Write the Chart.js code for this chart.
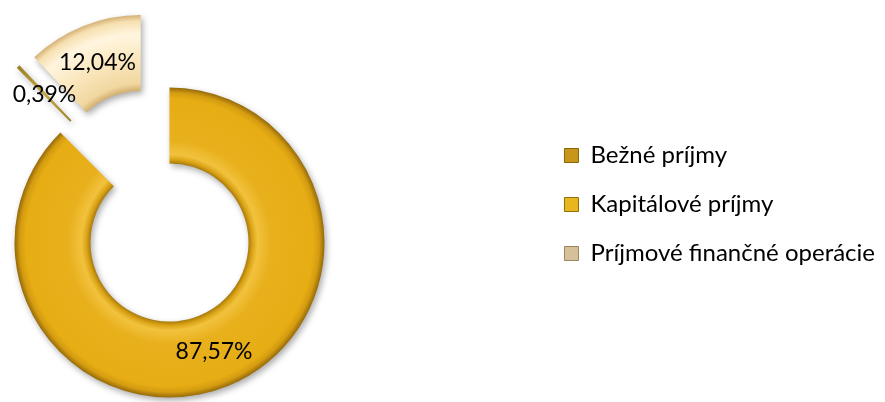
<!DOCTYPE html>
<html><head><meta charset="utf-8">
<script src="https://cdn.jsdelivr.net/npm/chart.js@4"></script>
<style>html,body{margin:0;padding:0;background:#fff;} #wrap{width:885px;height:402px;position:relative;}</style>
</head><body><div id="wrap"><canvas id="c" width="885" height="402"></canvas></div>
<script>
// ---- data ----
const categories = ['Bežné príjmy', 'Kapitálové príjmy', 'Príjmové finančné operácie'];
const shares = [87.57, 0.39, 12.04];

// ---- styles ----
const solidColors = ['#E6AD14', '#AE9330', '#F6DFAA'];
const legendColors = ['#C9961C', '#E8B61E', '#D6C09A'];
const legendBorders = ['#8A6508', '#8F6E08', '#9C8460'];
const gradStops = [
  [[0, '#A87A0C'], [0.05, '#D9A214'], [0.12, '#F2C23E'], [0.3, '#E8B01C'], [0.85, '#E6AD14'], [0.93, '#D49C10'], [1, '#94690A']],
  [[0, '#9C8226'], [0.5, '#C4A63E'], [1, '#9C8226']],
  [[0, '#D2B070'], [0.1, '#F1D7A0'], [0.4, '#FAE6BC'], [0.75, '#FFF5DF'], [0.92, '#F6E0B0'], [1, '#D4B074']]
];
const explodeDist = [0, 78, 78];      // px the slice is pulled out
const explodeTilt = [0, 10, 0];       // deg, direction tweak of the pull-out
const FONT = 'Lato';

function explodeVector(i, midAngle) {
  const a = midAngle + explodeTilt[i] * Math.PI / 180;
  return { dx: Math.cos(a) * explodeDist[i], dy: Math.sin(a) * explodeDist[i] };
}

const placePlugin = {
  id: 'place',
  afterLayout(chart) {
    const a = chart.chartArea;
    a.left = 0; a.right = 339; a.top = 87; a.bottom = 398;
    a.width = a.right - a.left; a.height = a.bottom - a.top;
  },
  afterDatasetUpdate(chart, args) {
    args.meta.data.forEach((arc, i) => {
      const mid = (arc.startAngle + arc.endAngle) / 2;
      const v = explodeVector(i, mid);
      arc.x += v.dx; arc.y += v.dy;
    });
  }
};

const shadowPlugin = {
  id: 'shadow',
  beforeDatasetsDraw(chart) {
    const ctx = chart.ctx;
    ctx.save();
    ctx.shadowColor = 'rgba(0,0,0,0.33)';
    ctx.shadowBlur = 6;
    ctx.shadowOffsetX = 2;
    ctx.shadowOffsetY = 3;
  },
  afterDatasetsDraw(chart) { chart.ctx.restore(); }
};

const labelPlugin = {
  id: 'valueLabels',
  afterDraw(chart) {
    const ctx = chart.ctx;
    const meta = chart.getDatasetMeta(0);
    ctx.save();
    ctx.font = '23px ' + FONT;
    ctx.fillStyle = '#000';
    ctx.textAlign = 'center';
    ctx.textBaseline = 'middle';
    meta.data.forEach((arc, i) => {
      const mid = (arc.startAngle + arc.endAngle) / 2;
      const r = (arc.innerRadius + arc.outerRadius) / 2;
      const txt = shares[i].toFixed(2).replace('.', ',') + '%';
      ctx.fillText(txt, arc.x + Math.cos(mid) * r, arc.y + Math.sin(mid) * r + 1);
    });
    ctx.restore();
  }
};

const chart = new Chart(document.getElementById('c'), {
  type: 'doughnut',
  data: {
    labels: categories,
    datasets: [{
      data: shares,
      backgroundColor: (c) => {
        const arc = c.element;
        const area = c.chart.chartArea;
        if (!arc || !(arc.outerRadius > 0) || !area) return solidColors[c.dataIndex];
        const mid = (arc.startAngle + arc.endAngle) / 2;
        const v = explodeVector(c.dataIndex, mid);
        const cx = (area.left + area.right) / 2 + v.dx;
        const cy = (area.top + area.bottom) / 2 + v.dy;
        const g = c.chart.ctx.createRadialGradient(cx, cy, arc.innerRadius, cx, cy, arc.outerRadius);
        gradStops[c.dataIndex].forEach(([s, col]) => g.addColorStop(s, col));
        return g;
      },
      borderWidth: 0,
      clip: false
    }]
  },
  options: {
    responsive: false,
    animation: false,
    radius: 155,
    cutout: '51%',
    layout: { padding: { top: 7, right: 0, bottom: 0, left: 0 } },
    plugins: {
      tooltip: { enabled: false },
      legend: {
        position: 'right',
        align: 'center',
        labels: {
          color: '#000',
          font: { family: FONT, size: 24 },
          boxWidth: 14,
          boxHeight: 14,
          padding: 25,
          generateLabels: () => categories.map((t, i) => ({
            text: t, fillStyle: legendColors[i], strokeStyle: legendBorders[i],
            lineWidth: 1, hidden: false, index: i, fontColor: '#000'
          }))
        }
      }
    }
  },
  plugins: [placePlugin, shadowPlugin, labelPlugin]
});
chart.update();
</script>
</body></html>
